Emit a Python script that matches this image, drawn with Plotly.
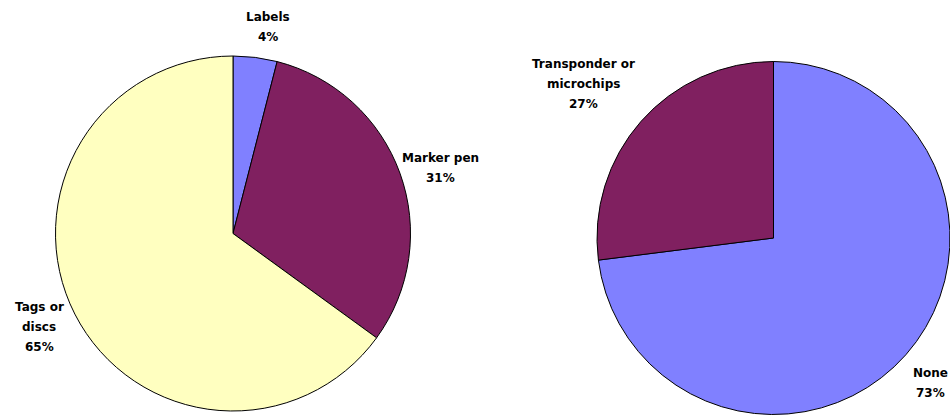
import plotly.graph_objects as go

# Marking method shares (left) and electronic identification shares (right)
marking_labels = ["Labels", "Marker pen", "Tags or\ndiscs"]
marking_values = [4, 31, 65]

chip_labels = ["None", "Transponder or\nmicrochips"]
chip_values = [73, 27]

W, H = 950, 418
BLUE, MAROON, CREAM = "#8080FF", "#802060", "#FFFFC0"

fig = go.Figure()

fig.add_trace(go.Pie(
    labels=[s.replace("\n", " ") for s in marking_labels],
    values=marking_values,
    sort=False, direction="clockwise", rotation=0,
    marker=dict(colors=[BLUE, MAROON, CREAM], line=dict(color="#000000", width=1)),
    textinfo="none", hoverinfo="label+percent", showlegend=False,
    domain=dict(x=[55.5 / W, 410.5 / W], y=[1 - 411 / H, 1 - 56 / H]),
))

fig.add_trace(go.Pie(
    labels=[s.replace("\n", " ") for s in chip_labels],
    values=chip_values,
    sort=False, direction="clockwise", rotation=0,
    marker=dict(colors=[BLUE, MAROON], line=dict(color="#000000", width=1)),
    textinfo="none", hoverinfo="label+percent", showlegend=False,
    domain=dict(x=[597 / W, 1.0], y=[1 - 415 / H, 1 - 61 / H]),
))

# Label anchors in pixels: (centre x, centre y of first line)
label_pos = {
    "Labels": (268, 17),
    "Marker pen": (440, 158),
    "Tags or\ndiscs": (39, 307),
    "None": (930, 373),
    "Transponder or\nmicrochips": (583, 64),
}
LINE_STEP = 20

annotations = []
for names, values in ((marking_labels, marking_values), (chip_labels, chip_values)):
    total = sum(values)
    for name, v in zip(names, values):
        lines = name.split("\n") + [f"{round(100 * v / total)}%"]
        x0, y0 = label_pos[name]
        for i, line in enumerate(lines):
            annotations.append(dict(
                text=line, xref="paper", yref="paper",
                x=x0 / W, y=1 - (y0 + i * LINE_STEP) / H,
                xanchor="center", yanchor="middle", showarrow=False,
                font=dict(family="DejaVu Sans", size=12, color="#000000", weight="bold"),
            ))

fig.update_layout(
    width=W, height=H, autosize=False,
    margin=dict(l=0, r=0, t=0, b=0),
    paper_bgcolor="#FFFFFF", plot_bgcolor="#FFFFFF",
    annotations=annotations,
)

fig.write_html("out.html")
